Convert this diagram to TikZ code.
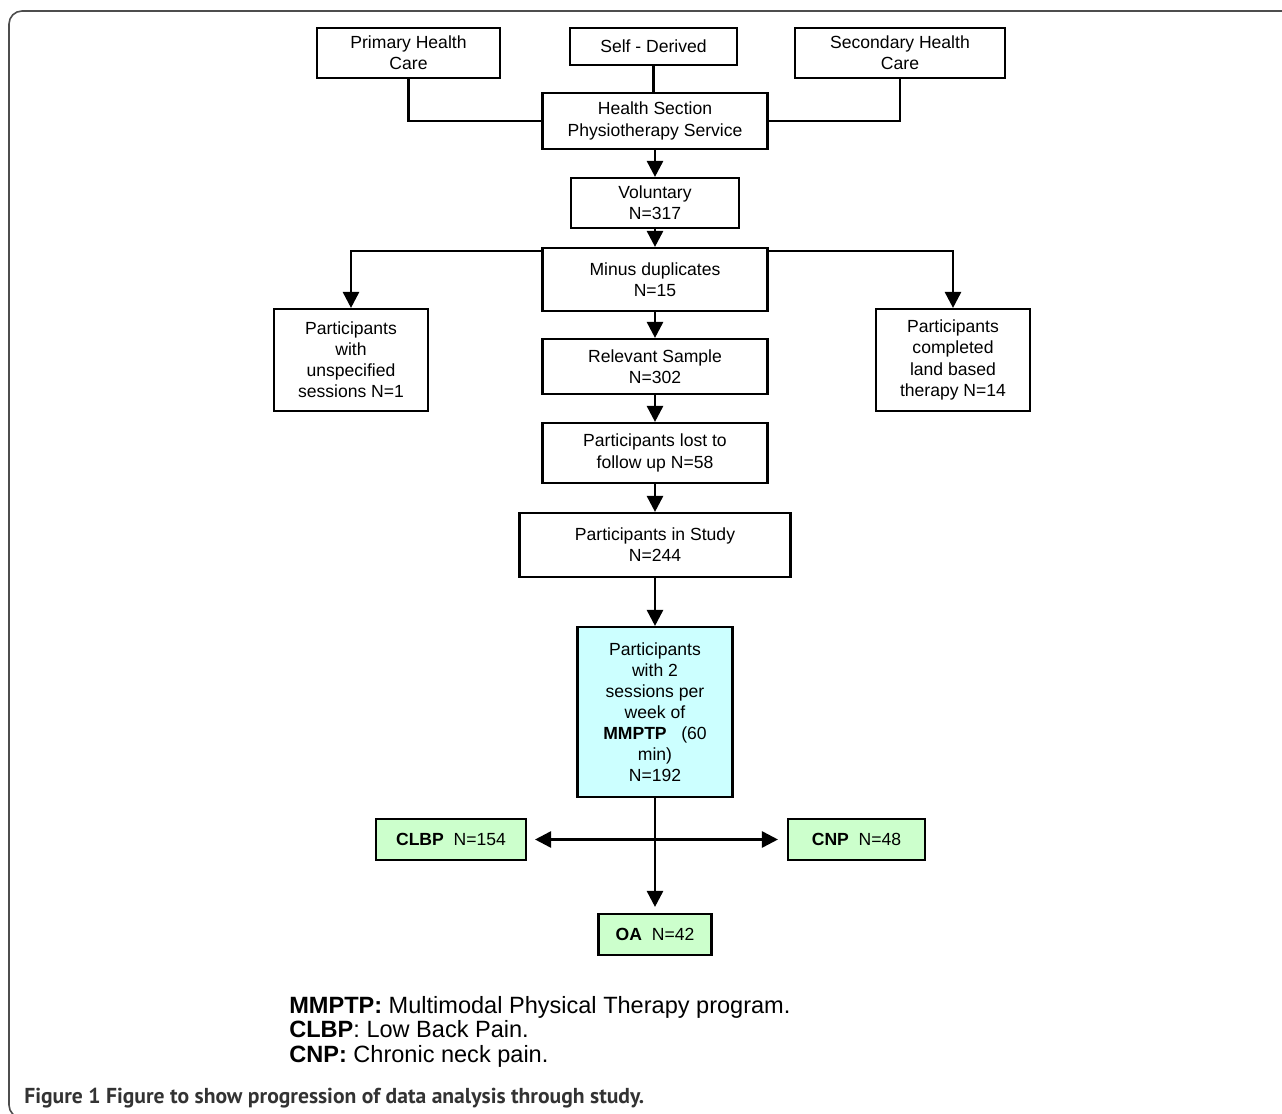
\documentclass[tikz,border=0pt]{standalone}
\usepackage{fontspec}
\setmainfont{Liberation Sans}
\newfontfamily\capfont{PT Sans}
\usetikzlibrary{positioning, calc, arrows.meta}
\definecolor{CyanFill}{HTML}{CCFFFF}
\definecolor{GreenFill}{HTML}{CCFFCC}
\definecolor{FrameGray}{HTML}{4D4D4D}
\definecolor{CaptionGray}{HTML}{333333}
\tikzset{
    flowbox/.style={rectangle, draw=black, line width=1.2pt, fill=white, align=center, inner sep=1pt, font=\fontsize{10}{12}\selectfont},
    cyanbox/.style={flowbox, fill=CyanFill},
    greenbox/.style={flowbox, fill=GreenFill, minimum height=0.82cm},
    arrow/.style={-{Triangle[length=0.32cm, width=0.32cm]}, line width=1.5pt},
    link/.style={line width=1.2pt},
    legend/.style={anchor=base west, inner sep=0pt, font=\fontsize{13.4}{14}\selectfont},
}

\begin{document}
\begin{tikzpicture}[x=0.02cm, y=-0.02cm]
                \useasboundingbox (0,0) rectangle (1282,1114);
                % Cornice della figura
                \begin{scope}
                    \clip (0,0) rectangle (1282,1114);
                    \draw[FrameGray, line width=0.9pt, rounded corners=0.26cm] (1300,11) -- (9,11) -- (9,1118) -- (200,1118);
                \end{scope}

                % Invii
                \node[flowbox, minimum width=3.66cm, minimum height=1cm] (prim) at (408.5,53) {Primary Health\\Care};
                \node[flowbox, minimum width=3.34cm, minimum height=0.74cm] (self) at (653.5,46.5) {Self - Derived};
                \node[flowbox, minimum width=4.2cm, minimum height=1cm] (sec) at (900,53) {Secondary Health\\Care};
                \node[flowbox, minimum width=4.5cm, minimum height=1.12cm] (hss) at (655,121) {Health Section\\Physiotherapy Service};

                % Colonna centrale
                \node[flowbox, minimum width=3.36cm, minimum height=1cm] (vol) at (655,203) {Voluntary\\N=317};
                \node[flowbox, minimum width=4.5cm, minimum height=1.26cm] (minus) at (655,279.5) {Minus duplicates\\N=15};
                \node[flowbox, minimum width=4.5cm, minimum height=1.1cm] (relev) at (655,366.5) {Relevant Sample\\N=302};
                \node[flowbox, minimum width=4.5cm, minimum height=1.2cm] (lost) at (655,453) {Participants lost to\\follow up N=58};
                \node[flowbox, minimum width=5.42cm, minimum height=1.28cm] (study) at (655,545) {Participants in Study\\N=244};
                \node[cyanbox, minimum width=3.1cm, minimum height=3.4cm] (mmptp) at (655,712) {Participants\\with 2\\sessions per\\week of\\\textbf{MMPTP}\ \ \ (60\\min)\\N=192};

                % Esclusi
                \node[flowbox, minimum width=3.08cm, minimum height=2.04cm] (unspec) at (351,360) {Participants\\with\\unspecified\\sessions N=1};
                \node[flowbox, minimum width=3.08cm, minimum height=2.04cm] (landb) at (953,360) {Participants\\completed\\land based\\therapy N=14};

                % Gruppi
                \node[greenbox, minimum width=3cm] (clbp) at (451,839.5) {\textbf{CLBP}\ \ N=154};
                \node[greenbox, minimum width=2.74cm] (cnp) at (856.5,839.5) {\textbf{CNP}\ \ N=48};
                \node[greenbox, minimum width=2.26cm] (oa) at (655,934.5) {\textbf{OA}\ \ N=42};

                % Collegamenti
                \draw[link] (prim.south) |- (hss.west);
                \draw[link] (sec.south) |- (hss.east);
                \draw[link] (self.south) -- (self.south |- hss.north);
                \draw[arrow] (hss) -- (vol);
                \draw[arrow] (vol) -- (minus);
                \draw[arrow] ([yshift=-0.08cm]minus.north west) -| (unspec.north);
                \draw[arrow] ([yshift=-0.08cm]minus.north east) -| (landb.north);
                \draw[arrow] (minus) -- (relev);
                \draw[arrow] (relev) -- (lost);
                \draw[arrow] (lost) -- (study);
                \draw[arrow] (study) -- (mmptp);
                \draw[arrow, shorten >=0.12cm] (mmptp) -- (oa);
                \coordinate (cross) at (mmptp.south |- clbp.east);
                \draw[arrow, shorten >=0.16cm] (cross) -- (clbp.east);
                \draw[arrow, shorten >=0.18cm] (cross) -- (cnp.west);

                % Legenda
                \node[legend] (leg1) at (289,1013) {\textbf{MMPTP:} Multimodal Physical Therapy program.};
                \node[legend] (leg2) at (289,1037.5) {\textbf{CLBP}: Low Back Pain.};
                \node[legend] (leg3) at (289,1062) {\textbf{CNP:} Chronic neck pain.};

                % Didascalia
                \node[anchor=base west, inner sep=0pt, text=CaptionGray, font=\capfont\bfseries\fontsize{12.3}{14}\selectfont] (cap) at (24,1103) {Figure 1 Figure to show progression of data analysis through study.};
\end{tikzpicture}
\end{document}
